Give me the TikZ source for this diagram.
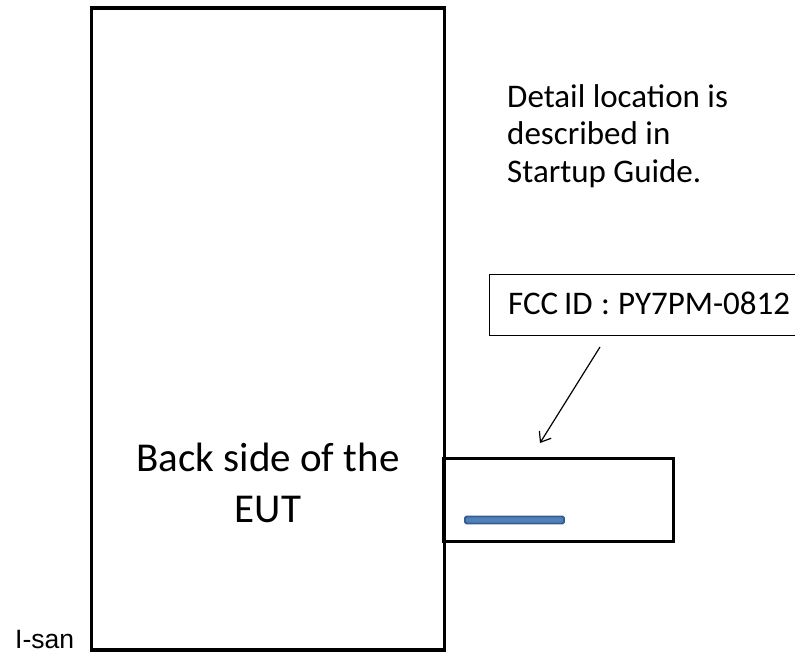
\documentclass[tikz,border=0pt]{standalone}
\usepackage{fontspec}
\setmainfont{Carlito}
\newfontfamily\arialf{Liberation Sans}
\usetikzlibrary{arrows.meta}
\definecolor{barfill}{HTML}{4F81BD}
\definecolor{barline}{HTML}{385D8A}
\tikzset{
  thickbox/.style={draw=black, line width=3.2pt, inner sep=0pt, fill=none},
  thinbox/.style={draw=black, line width=1.1pt, inner sep=0pt},
  plaintext/.style={inner sep=0pt, text=black},
  pointer/.style={draw=black, line width=1.2pt, -{Straight Barb[length=9pt,width=14pt,line width=1.2pt]}},
}
\begin{document}
\begin{tikzpicture}[x=1pt,y=-1pt]
\useasboundingbox (0,0) rectangle (795,653);
\clip (0,0) rectangle (795,653);
% main EUT box
\node[thickbox, minimum width=353pt, minimum height=642pt] (eut) at (268,329) {};
\node[plaintext, align=center, font=\fontsize{41}{51}\selectfont, anchor=base] (euttext) at (268,522) {Back side of the\\EUT};
% label location box
\node[thickbox, line width=3pt, anchor=north west, minimum width=230pt, minimum height=83pt] (tag) at (442,457) {};
\node[draw=barline, fill=barfill, line width=1.8pt, rounded corners=1.5pt, inner sep=0pt, minimum width=99pt, minimum height=7pt, anchor=center] (bar) at (514.5,520) {};
% FCC box
\node[thinbox, anchor=north west, minimum height=61pt, minimum width=330pt] (fcc) at (489,274) {};
\node[plaintext, anchor=base west, font=\fontsize{33}{39}\selectfont] (fcctext) at (508,314) {FCC\hspace{0.18em}ID\hspace{0.25em}:\hspace{0.25em}PY7PM-0812};
\coordinate (arrowstart) at (600,347);
\coordinate (arrowtip) at (540,443);
\draw[pointer] (arrowstart) -- (arrowtip);
% note
\node[plaintext, anchor=base west, align=left, font=\fontsize{33}{37.5}\selectfont] (note) at (507,182) {Detail location is\\described in\\Startup Guide.};
% author
\node[plaintext, anchor=base west, font=\arialf\fontsize{26.5}{30}\selectfont] (author) at (15,648) {I-san};
\end{tikzpicture}
\end{document}
